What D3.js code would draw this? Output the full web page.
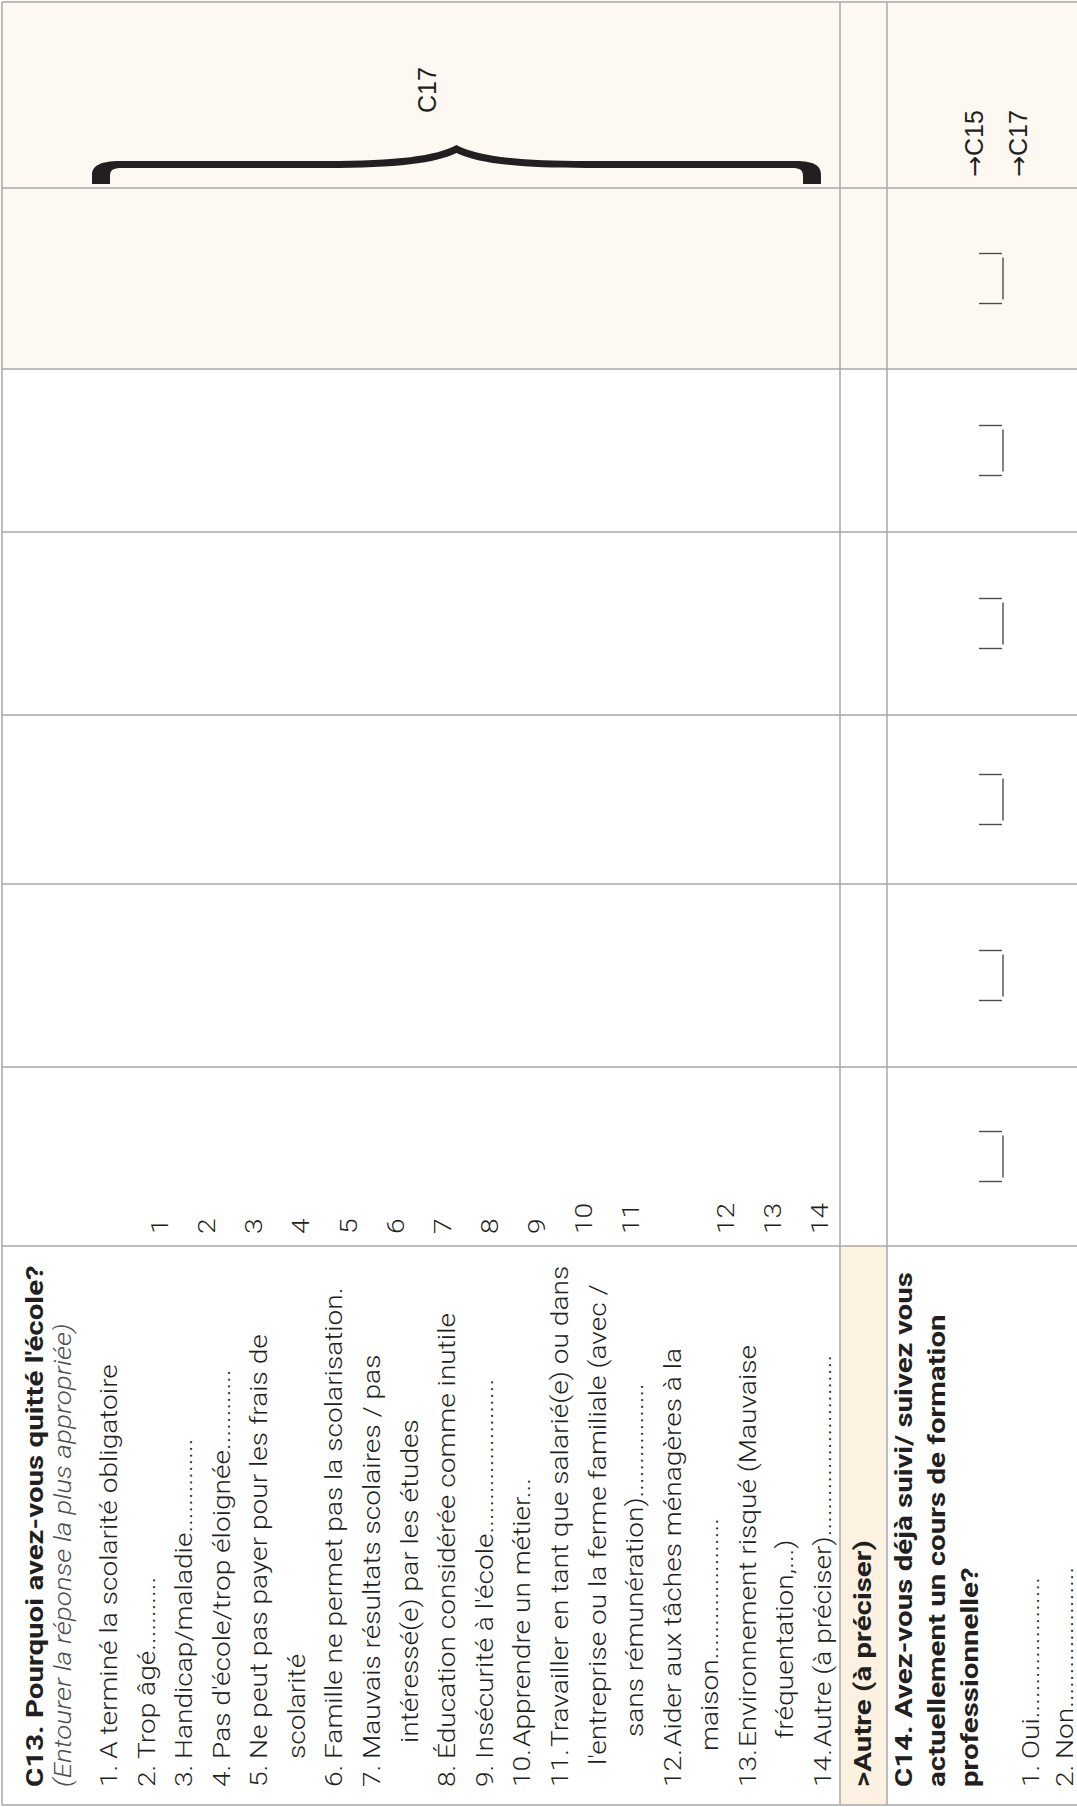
<!DOCTYPE html>
<html>
<head>
<meta charset="utf-8">
<script src="https://cdn.jsdelivr.net/npm/d3@7"></script>
<style>
html, body { margin: 0; padding: 0; background: #fff; }
svg { display: block; }
.light { font-family: Roboto, "Open Sans", sans-serif; font-weight: 300; font-size: 24px; fill: #231f20; }
.bold { font-family: Roboto, "Open Sans", sans-serif; font-weight: 700; font-size: 24px; fill: #231f20; }
.hint { font-family: Roboto, "Open Sans", sans-serif; font-weight: 300; font-style: italic; font-size: 23px; fill: #4d4d4f; }
.skip { font-family: "Liberation Sans", Arial, sans-serif; font-size: 25px; fill: #231f20; }
.arrow { font-family: "DejaVu Sans", sans-serif; }
</style>
</head>
<body>
<div id="chart"></div>
<script>
"use strict";

// question C13
const c13Title = "C13. Pourquoi avez-vous quitté l'école?";
const c13Hint = "(Entourer la réponse la plus appropriée)";
const c13Items = [
    ["A terminé la scolarité obligatoire"],
    ["Trop âgé..........."],
    ["Handicap/maladie.............."],
    ["Pas d'école/trop éloignée............"],
    ["Ne peut pas payer pour les frais de", "scolarité"],
    ["Famille ne permet pas la scolarisation."],
    ["Mauvais résultats scolaires / pas", "intéressé(e) par les études"],
    ["Éducation considérée comme inutile"],
    ["Insécurité à l'école......................."],
    ["Apprendre un métier..."],
    ["Travailler en tant que salarié(e) ou dans", "l'entreprise ou la ferme familiale (avec /", "sans rémunération)................."],
    ["Aider aux tâches ménagères à la", "maison....................."],
    ["Environnement risqué (Mauvaise", "fréquentation,...)"],
    ["Autre (à préciser)..........................."]
];
const c13Codes = [1, 2, 3, 4, 5, 6, 7, 8, 9, 10, 11, 12, 13, 14];
const c13Skip = "C17";
const otherLabel = ">Autre (à préciser)";

// question C14
const c14Title = ["C14. Avez-vous déjà suivi/ suivez vous", "actuellement un cours de formation", "professionnelle?"];
const c14Options = ["Oui.....................", "Non....................."];
const c14Skips = ["C15", "C17"];
const answerColumns = [1, 2, 3, 4, 5, 6];

// page layout (reading orientation, the page is printed turned a quarter)
const W = 1077, H = 1807;
const colEdges = [2, 561, 740, 923, 1092, 1275, 1438, 1619, 1805];
const rowEdges = [2, 840, 887, W];
const numU = 20, textU = 48;
const wrapIndent = {4: [48], 6: [64], 10: [42, 70], 11: [56], 12: [68]};

const svg = d3.select("#chart").append("svg")
    .attr("width", W)
    .attr("height", H);
const page = svg.append("g")
    .attr("transform", "translate(0," + H + ") rotate(-90)");

// installed fonts are not the printed DIN, fit them to the printed widths
function measure(cls, str) {
    const t = page.append("text").attr("class", cls).text(str);
    const len = t.node().getComputedTextLength();
    t.remove();
    return len;
}
const kLight = 395 / measure("light", c13Items[0][0]);
const kBold = 522 / measure("bold", c13Title);
const kHint = 464 / measure("hint", c13Hint);

function addText(cls, str, u, v, k, anchor) {
    return page.append("text")
        .attr("class", cls)
        .attr("text-anchor", anchor || "start")
        .attr("transform", "translate(" + u + "," + v + ") scale(" + k + ",1)")
        .text(str);
}

// backgrounds
page.append("rect")
    .attr("x", colEdges[6]).attr("y", 0)
    .attr("width", H - colEdges[6]).attr("height", W)
    .attr("fill", "#fdf9f2");
page.append("rect")
    .attr("x", colEdges[0]).attr("y", rowEdges[1])
    .attr("width", colEdges[1] - colEdges[0]).attr("height", rowEdges[2] - rowEdges[1])
    .attr("fill", "#fdf1e1");

// grid
const grid = page.append("g").attr("stroke", "#a7a9ac").attr("stroke-width", 1.5);
grid.selectAll("line.col").data(colEdges).enter().append("line")
    .attr("class", "col")
    .attr("x1", function (d) { return d; }).attr("x2", function (d) { return d; })
    .attr("y1", rowEdges[0]).attr("y2", W);
grid.selectAll("line.row").data(rowEdges.slice(0, 3)).enter().append("line")
    .attr("class", "row")
    .attr("x1", colEdges[0]).attr("x2", colEdges[colEdges.length - 1])
    .attr("y1", function (d) { return d; }).attr("y2", function (d) { return d; });

// C13 question text
addText("bold", c13Title, numU, 43, kBold);
addText("hint", c13Hint, numU, 71, kHint);

const lineCount = d3.sum(c13Items, function (d) { return d.length; });
const lineY = d3.scaleLinear().domain([0, lineCount - 1]).range([117, 831]);
var li = 0;
c13Items.forEach(function (lines, i) {
    const num = addText("light", c13Codes[i] + ".", numU, lineY(li), kLight);
    const numEnd = numU + num.node().getComputedTextLength() * kLight;
    lines.forEach(function (str, j) {
        const u = j === 0 ? Math.max(textU, numEnd + 2) : wrapIndent[i][j - 1];
        addText("light", str, u, lineY(li), kLight);
        li++;
    });
});

// code column, 12 starts one slot lower
const slotY = d3.scaleLinear().domain([0, 14]).range([168, 828]);
c13Codes.forEach(function (code, i) {
    addText("light", String(code), 573, slotY(i + (i >= 11 ? 1 : 0)), kLight);
});

// brace and skip for C13
const bu = colEdges[7];
const v0 = rowEdges[0] + 90, v1 = rowEdges[1] - 19, vm = (v0 + v1) / 2;
const bp = d3.path();
bp.moveTo(bu + 4, v0);
bp.lineTo(bu + 13, v0);
bp.bezierCurveTo(bu + 22, v0, bu + 27, v0 + 8, bu + 27, v0 + 28);
bp.lineTo(bu + 27, vm - 130);
bp.bezierCurveTo(bu + 27, vm - 60, bu + 32, vm - 20, bu + 43, vm);
bp.bezierCurveTo(bu + 32, vm + 20, bu + 27, vm + 60, bu + 27, vm + 130);
bp.lineTo(bu + 27, v1 - 26);
bp.bezierCurveTo(bu + 27, v1 - 6, bu + 22, v1, bu + 13, v1);
bp.lineTo(bu + 4, v1);
bp.lineTo(bu + 4, v1 - 18);
bp.lineTo(bu + 12, v1 - 18);
bp.bezierCurveTo(bu + 18, v1 - 18, bu + 20, v1 - 21, bu + 20, v1 - 29);
bp.lineTo(bu + 20, vm + 130);
bp.bezierCurveTo(bu + 20, vm + 60, bu + 25, vm + 20, bu + 35, vm);
bp.bezierCurveTo(bu + 25, vm - 20, bu + 20, vm - 60, bu + 20, vm - 130);
bp.lineTo(bu + 20, v0 + 30);
bp.bezierCurveTo(bu + 20, v0 + 21, bu + 18, v0 + 18, bu + 12, v0 + 18);
bp.lineTo(bu + 4, v0 + 18);
bp.closePath();
page.append("path").attr("d", bp.toString()).attr("fill", "#231f20");
addText("skip", c13Skip, (colEdges[7] + colEdges[8]) / 2 + 5, 436, 1, "middle");

// other (specify) row
addText("bold", otherLabel, numU, 871, kBold);

// C14
const c14Y = d3.scaleLinear().domain([0, 1]).range([912, 945]);
c14Title.forEach(function (str, i) {
    addText("bold", str, numU, c14Y(i), kBold);
});
const optY = d3.scaleLinear().domain([0, 1]).range([1039, 1073]);
c14Options.forEach(function (str, i) {
    addText("light", (i + 1) + ".", numU, optY(i), kLight);
    addText("light", str, textU, optY(i), kLight);
});
const skipY = d3.scaleLinear().domain([0, 1]).range([983, 1027]);
c14Skips.forEach(function (str, i) {
    const t = addText("skip", "", colEdges[7] + 11, skipY(i), 1);
    t.append("tspan").attr("class", "arrow").text("→");
    t.append("tspan").text(str);
});

// answer boxes |__|
const boxes = page.append("g").attr("stroke", "#4d4d4f").attr("stroke-width", 1.4).attr("fill", "none");
answerColumns.forEach(function (c) {
    const cu = (colEdges[c] + colEdges[c + 1]) / 2;
    const b = boxes.append("g");
    b.append("line").attr("x1", cu - 25).attr("x2", cu - 25).attr("y1", 979).attr("y2", 1002);
    b.append("line").attr("x1", cu + 25).attr("x2", cu + 25).attr("y1", 979).attr("y2", 1002);
    b.append("line").attr("x1", cu - 21).attr("x2", cu + 21).attr("y1", 1003).attr("y2", 1003);
});
</script>
</body>
</html>
